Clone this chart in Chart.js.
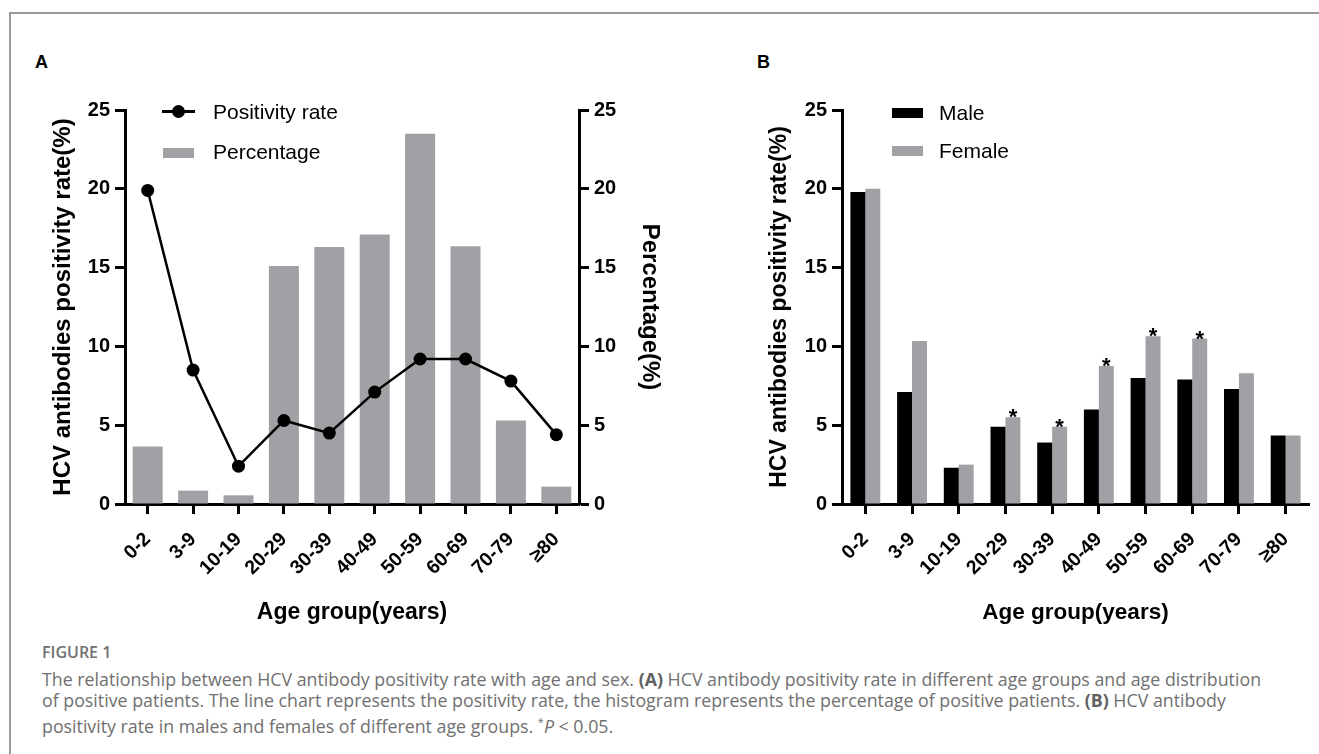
<!DOCTYPE html>
<html>
<head>
<meta charset="utf-8">
<script src="https://cdn.jsdelivr.net/npm/chart.js@4.4.1/dist/chart.umd.min.js"></script>
<style>
    body { margin: 0; width: 1319px; height: 754px; position: relative; overflow: hidden; background: #fff; font-family: Arial, "Liberation Sans", sans-serif; }
    .frame { position: absolute; left: 9px; top: 12px; width: 1400px; height: 800px; border-top: 2px solid #999; border-left: 2px solid #999; }
    .panel-label { position: absolute; font: bold 18px/18px Arial, "Liberation Sans", sans-serif; color: #000; }
    canvas { position: absolute; }
    .legend-text { position: absolute; font: 21px/24px Arial, "Liberation Sans", sans-serif; color: #000; white-space: nowrap; }
    .legend-box { position: absolute; width: 31px; height: 10px; }
    .caption-title { position: absolute; left: 42px; top: 642px; font: 600 16px/20px "Open Sans", sans-serif; color: #707070; }
    .caption { position: absolute; left: 42px; top: 669px; font: 17.8px/21px "Open Sans", sans-serif; color: #707070; white-space: nowrap; }
    .caption b { color: #606060; }
</style>
</head>
<body>
<div class="frame"></div>

<div class="panel-label" style="left:35px; top:53px;">A</div>
<div class="panel-label" style="left:757px; top:53px;">B</div>

<canvas id="chartA" width="700" height="570" style="left:0; top:60px;"></canvas>
<canvas id="chartB" width="619" height="570" style="left:700px; top:60px;"></canvas>

<!-- 범례 A -->
<div style="position:absolute; left:162px; top:110px; width:33px; height:3px; background:#000;"></div>
<div style="position:absolute; left:172px; top:105px; width:13px; height:13px; border-radius:50%; background:#000;"></div>
<div class="legend-text" style="left:213px; top:100px;">Positivity rate</div>
<div class="legend-box" style="left:163px; top:148px; background:#a1a1a5;"></div>
<div class="legend-text" style="left:213px; top:140px;">Percentage</div>

<!-- 범례 B -->
<div class="legend-box" style="left:892px; top:108px; background:#000;"></div>
<div class="legend-text" style="left:939px; top:101px;">Male</div>
<div class="legend-box" style="left:892px; top:146px; background:#a1a1a5;"></div>
<div class="legend-text" style="left:939px; top:139px;">Female</div>

<div class="caption-title">FIGURE 1</div>
<div class="caption">
The relationship between HCV antibody positivity rate with age and sex. <b>(A)</b> HCV antibody positivity rate in different age groups and age distribution<br>
of positive patients. The line chart represents the positivity rate, the histogram represents the percentage of positive patients. <b>(B)</b> HCV antibody<br>
positivity rate in males and females of different age groups. <sup style="font-size:11px;">*</sup><i>P</i> &lt; 0.05.
</div>

<script>
const ageGroups = ['0-2', '3-9', '10-19', '20-29', '30-39', '40-49', '50-59', '60-69', '70-79', '≥80'];
const positivityRate = [19.9, 8.5, 2.4, 5.3, 4.5, 7.1, 9.2, 9.2, 7.8, 4.4];
const percentage = [3.65, 0.85, 0.55, 15.1, 16.3, 17.1, 23.5, 16.35, 5.3, 1.1];
const maleRate = [19.8, 7.1, 2.3, 4.9, 3.9, 6.0, 8.0, 7.9, 7.3, 4.35];
const femaleRate = [20.0, 10.35, 2.5, 5.5, 4.9, 8.75, 10.65, 10.5, 8.3, 4.35];
const femaleSignificant = [false, false, false, true, true, true, true, true, false, false];
const yMax = 25;
const yStep = 5;

document.addEventListener('DOMContentLoaded', function() {
    Chart.defaults.font.family = 'Arial, "Liberation Sans", sans-serif';
    Chart.defaults.color = '#000';
    Chart.defaults.animation = false;

    const barGrey = '#a1a1a5';

    // 축 공통 스타일
    const gridStyle = {
        display: true,
        drawOnChartArea: false,
        drawTicks: true,
        tickLength: 10,
        tickWidth: 3,
        tickColor: '#000',
        offset: false
    };
    const borderStyle = { display: true, color: '#000', width: 3 };

    function xAxis(titleSize, height) {
        return {
            offset: true,
            grid: gridStyle,
            border: borderStyle,
            ticks: {
                autoSkip: false,
                minRotation: 45,
                maxRotation: 45,
                padding: 14,
                font: { size: 19.5, weight: 'bold' }
            },
            title: {
                display: true,
                text: 'Age group(years)',
                font: { size: titleSize, weight: 'bold' },
                padding: { top: 0, bottom: 4 }
            },
            afterFit: scale => { scale.height = height; }
        };
    }

    function yAxis(position, titleText, titleSize, titlePad, width) {
        return {
            position: position,
            min: 0,
            max: yMax,
            grid: gridStyle,
            border: borderStyle,
            ticks: {
                stepSize: yStep,
                padding: 5,
                font: { size: 20, weight: 'bold' }
            },
            title: {
                display: true,
                text: titleText,
                font: { size: titleSize, weight: 'bold' },
                padding: { top: titlePad, bottom: 0 }
            },
            afterFit: scale => { scale.width = width; }
        };
    }

    // A. 연령별 양성률 + 분포
    new Chart(document.getElementById('chartA'), {
        type: 'bar',
        data: {
            labels: ageGroups,
            datasets: [{
                type: 'line',
                label: 'Positivity rate',
                data: positivityRate,
                yAxisID: 'y',
                order: 0,
                borderColor: '#000',
                backgroundColor: '#000',
                borderWidth: 2.5,
                pointRadius: 6.5,
                pointBorderWidth: 0,
                tension: 0
            }, {
                type: 'bar',
                label: 'Percentage',
                data: percentage,
                yAxisID: 'y1',
                order: 1,
                backgroundColor: barGrey,
                barPercentage: 0.66,
                categoryPercentage: 1
            }]
        },
        options: {
            responsive: false,
            maintainAspectRatio: false,
            layout: { padding: { top: 50, left: 0, right: 0, bottom: 0 } },
            plugins: { legend: { display: false }, tooltip: { enabled: false } },
            scales: {
                x: xAxis(23, 126),
                y: yAxis('left', 'HCV antibodies positivity rate(%)', 24, 48.6, 125),
                y1: yAxis('right', 'Percentage(%)', 24, 35.6, 121)
            }
        }
    });

    // B. 성별 양성률
    const starPlugin = {
        id: 'stars',
        afterDatasetsDraw(chart) {
            const meta = chart.getDatasetMeta(1);
            const ctx = chart.ctx;
            ctx.save();
            ctx.font = 'bold 22px Arial, "Liberation Sans", sans-serif';
            ctx.fillStyle = '#000';
            ctx.textAlign = 'center';
            ctx.textBaseline = 'alphabetic';
            meta.data.forEach((bar, i) => {
                if (femaleSignificant[i]) ctx.fillText('*', bar.x, bar.y + 7);
            });
            ctx.restore();
        }
    };

    new Chart(document.getElementById('chartB'), {
        type: 'bar',
        data: {
            labels: ageGroups,
            datasets: [{
                label: 'Male',
                data: maleRate,
                backgroundColor: '#000',
                barPercentage: 1,
                categoryPercentage: 0.64
            }, {
                label: 'Female',
                data: femaleRate,
                backgroundColor: barGrey,
                barPercentage: 1,
                categoryPercentage: 0.64
            }]
        },
        options: {
            responsive: false,
            maintainAspectRatio: false,
            layout: { padding: { top: 50, left: 0, right: 10, bottom: 0 } },
            plugins: { legend: { display: false }, tooltip: { enabled: false } },
            scales: {
                x: xAxis(22.5, 126),
                y: yAxis('left', 'HCV antibodies positivity rate(%)', 23, 66.2, 142)
            }
        },
        plugins: [starPlugin]
    });
});
</script>
</body>
</html>
